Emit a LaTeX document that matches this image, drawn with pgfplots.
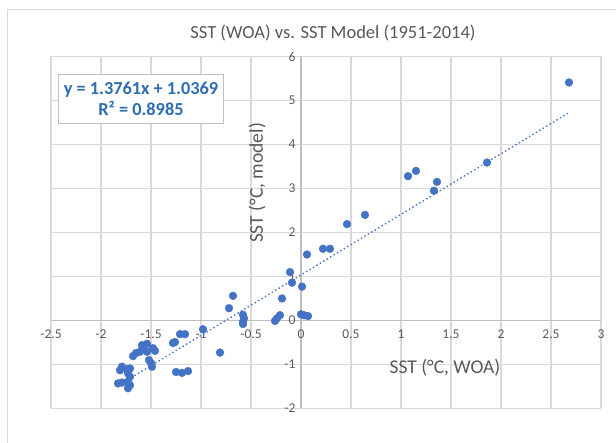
\documentclass[border=0pt]{standalone}
\usepackage{pgfplots}
\pgfplotsset{compat=1.18}
\usepackage{fontspec}
\setmainfont{Carlito}
\definecolor{mk}{HTML}{4472C4}
\definecolor{eq}{HTML}{2E6DB4}
\definecolor{txt}{HTML}{595959}
\definecolor{grd}{HTML}{D9D9D9}
\definecolor{axl}{HTML}{BFBFBF}
\begin{document}
\begin{tikzpicture}
\begin{axis}[
  scale only axis, width=550pt, height=352pt,
  at={(0,0)}, anchor=south west,
  xmin=-2.5, xmax=3, ymin=-2, ymax=6,
  axis lines=middle,
  axis line style={axl, line width=1.5pt, -},
  xtick={-2.5,-2,-1.5,-1,-0.5,0,0.5,1,1.5,2,2.5,3},
  ytick={-2,-1,0,1,2,3,4,5,6},
  grid=major, major grid style={grd, line width=1.2pt},
  major tick length=0pt,
  hide obscured x ticks=false, hide obscured y ticks=false,
  /pgf/number format/assume math mode=true,
  ticklabel style={font=\fontsize{13.5}{16}\selectfont, text=txt},
  xticklabel style={anchor=north, yshift=-6pt},
  yticklabel style={anchor=east, xshift=-2pt},
  clip=false,
]
\addplot[only marks, mark=*, mark size=3.9pt, mark options={fill=mk, draw=mk}] coordinates {
(2.68,5.41) (1.86,3.59) (1.36,3.15) (1.33,2.95) (1.15,3.40) (1.07,3.28)
(0.64,2.40) (0.46,2.19) (0.29,1.63) (0.22,1.63) (0.06,1.50)
(-0.11,1.10) (-0.09,0.86) (0.01,0.77) (-0.19,0.50)
(0.00,0.14) (0.03,0.12) (0.07,0.10) (-0.21,0.12) (-0.24,0.05) (-0.26,-0.01)
(-0.68,0.56) (-0.72,0.28) (-0.58,0.13) (-0.57,0.05) (-0.58,-0.03) (-0.58,-0.08)
(-0.98,-0.20) (-0.81,-0.73)
(-1.21,-0.31) (-1.16,-0.31) (-1.26,-0.49) (-1.28,-0.51)
(-1.25,-1.17) (-1.19,-1.19) (-1.13,-1.15)
(-1.59,-0.56) (-1.54,-0.53) (-1.58,-0.63) (-1.61,-0.71) (-1.65,-0.74) (-1.68,-0.81)
(-1.54,-0.71) (-1.48,-0.63) (-1.46,-0.69) (-1.52,-0.90) (-1.50,-0.97) (-1.49,-1.05)
(-1.79,-1.05) (-1.81,-1.13) (-1.74,-1.11) (-1.71,-1.09) (-1.73,-1.20) (-1.71,-1.28)
(-1.83,-1.43) (-1.79,-1.41) (-1.73,-1.39) (-1.71,-1.47) (-1.73,-1.54)
};
\addplot[mk, line width=2pt, line cap=round, dash pattern=on 0.01pt off 4pt] coordinates {(-1.83,-1.4814) (2.68,4.7248)};
\node[text=txt, font=\fontsize{18.5}{22}\selectfont] at (axis cs:0.32,6.53) {SST (WOA) vs. SST Model (1951-2014)};
\node[text=txt, font=\fontsize{19.5}{22}\selectfont] at (axis cs:1.44,-1.08) {SST (°C, WOA)};
\node[text=txt, font=\fontsize{19.5}{22}\selectfont, rotate=90] at (axis cs:-0.44,3.125) {SST (°C, model)};
\node[draw=axl, fill=white, line width=0.8pt, text=eq, font=\bfseries\fontsize{18.3}{20.5}\selectfont, align=center, minimum width=165pt, minimum height=49pt, inner sep=0pt] at (axis cs:-1.60,5.035) {y = 1.3761x + 1.0369\\R² = 0.8985};
\end{axis}
\draw[grd, line width=1pt] (-43pt,-300pt) -- (-43pt,398.5pt) -- (1000pt,398.5pt);
\pgfresetboundingbox
\useasboundingbox (-51pt,-34.5pt) rectangle (565pt,408.5pt);
\end{tikzpicture}
\end{document}
